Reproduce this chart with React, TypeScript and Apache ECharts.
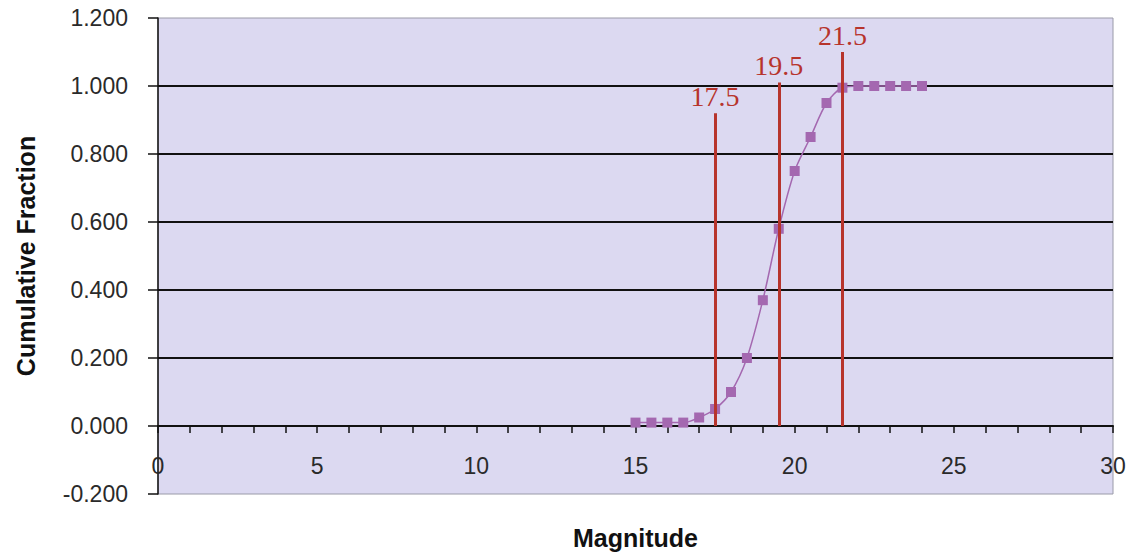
import React, { useEffect, useRef } from "react";
import * as echarts from "echarts";

const magnitude = [15, 15.5, 16, 16.5, 17, 17.5, 18, 18.5, 19, 19.5, 20, 20.5, 21, 21.5, 22, 22.5, 23, 23.5, 24];
const fraction = [0.01, 0.01, 0.01, 0.01, 0.025, 0.05, 0.1, 0.2, 0.37, 0.58, 0.75, 0.85, 0.95, 0.995, 1.0, 1.0, 1.0, 1.0, 1.0];
const cutoffs = [17.5, 19.5, 21.5];
const cutoffTops = [0.92, 1.01, 1.1];
const cutoffLabels = ["17.5", "19.5", "21.5"];

export default function App() {
  const ref = useRef<HTMLDivElement>(null);
  useEffect(() => {
    const chart = echarts.init(ref.current!, null, { renderer: "svg" });
    const red = "#b7342c";
    const purple = "#a468b0";
    chart.setOption({
      animation: false,
      backgroundColor: "#ffffff",
      grid: {
        left: 158,
        right: 22,
        top: 18,
        bottom: 60,
        outerBoundsMode: "none",
        containLabel: false,
        show: true,
        backgroundColor: "#dcd9f1",
        borderColor: "#9a9aa8",
        borderWidth: 1,
      },
      xAxis: {
        type: "value",
        min: 0,
        max: 30,
        interval: 5,
        name: "Magnitude",
        nameLocation: "middle",
        nameGap: 31,
        nameTextStyle: { fontFamily: "Liberation Sans", fontWeight: "bold", fontSize: 25, color: "#111" },
        axisLine: { show: true, onZero: true, lineStyle: { color: "#111", width: 2 } },
        axisTick: { show: true, length: 7, lineStyle: { color: "#111", width: 1.5 } },
        minorTick: { show: true, splitNumber: 5, length: 7, lineStyle: { color: "#111", width: 1.5 } },
        axisLabel: { margin: -40, fontFamily: "Liberation Sans", fontSize: 23, color: "#2a2a2a" },
        splitLine: { show: false },
      },
      yAxis: {
        type: "value",
        min: -0.2,
        max: 1.2,
        interval: 0.2,
        name: "Cumulative Fraction",
        nameLocation: "middle",
        nameGap: 120,
        nameRotate: 90,
        nameTextStyle: { fontFamily: "Liberation Sans", fontWeight: "bold", fontSize: 25, color: "#111" },
        axisLine: { show: true, lineStyle: { color: "#111", width: 1.5 } },
        axisTick: { show: true, length: 10, lineStyle: { color: "#111", width: 1.5 } },
        axisLabel: {
          margin: 30,
          fontFamily: "Liberation Sans",
          fontSize: 23,
          color: "#2a2a2a",
          formatter: (v: number) => (Math.abs(v) < 1e-9 ? 0 : v).toFixed(3),
        },
        splitLine: {
          show: true,
          lineStyle: {
            color: ["rgba(0,0,0,0)", "#111", "#111", "#111", "#111", "#111", "#111", "rgba(0,0,0,0)"],
            width: 2,
          },
        },
      },
      series: [
        {
          type: "line",
          data: magnitude.map((m, i) => [m, fraction[i]]),
          smooth: 0.3,
          symbol: "rect",
          symbolSize: 10,
          lineStyle: { color: purple, width: 1.5 },
          itemStyle: { color: purple },
          z: 3,
        },
        {
          type: "line",
          data: [],
          markLine: {
            silent: true,
            symbol: ["none", "none"],
            lineStyle: { color: red, width: 3, type: "solid" },
            label: {
              show: true,
              position: "end",
              distance: 3,
              fontFamily: "Liberation Serif",
              fontSize: 28,
              color: red,
              formatter: (p: any) => p.data.name || p.name,
            },
            data: cutoffs.map((c, i) => [
              { coord: [c, 0], name: cutoffLabels[i] },
              { coord: [c, cutoffTops[i]] },
            ]),
          },
          z: 4,
        },
      ],
    });
    return () => chart.dispose();
  }, []);
  return (
    <div
      ref={ref}
      style={{ position: "fixed", left: 0, top: 0, width: 1135, height: 554 }}
    />
  );
}
